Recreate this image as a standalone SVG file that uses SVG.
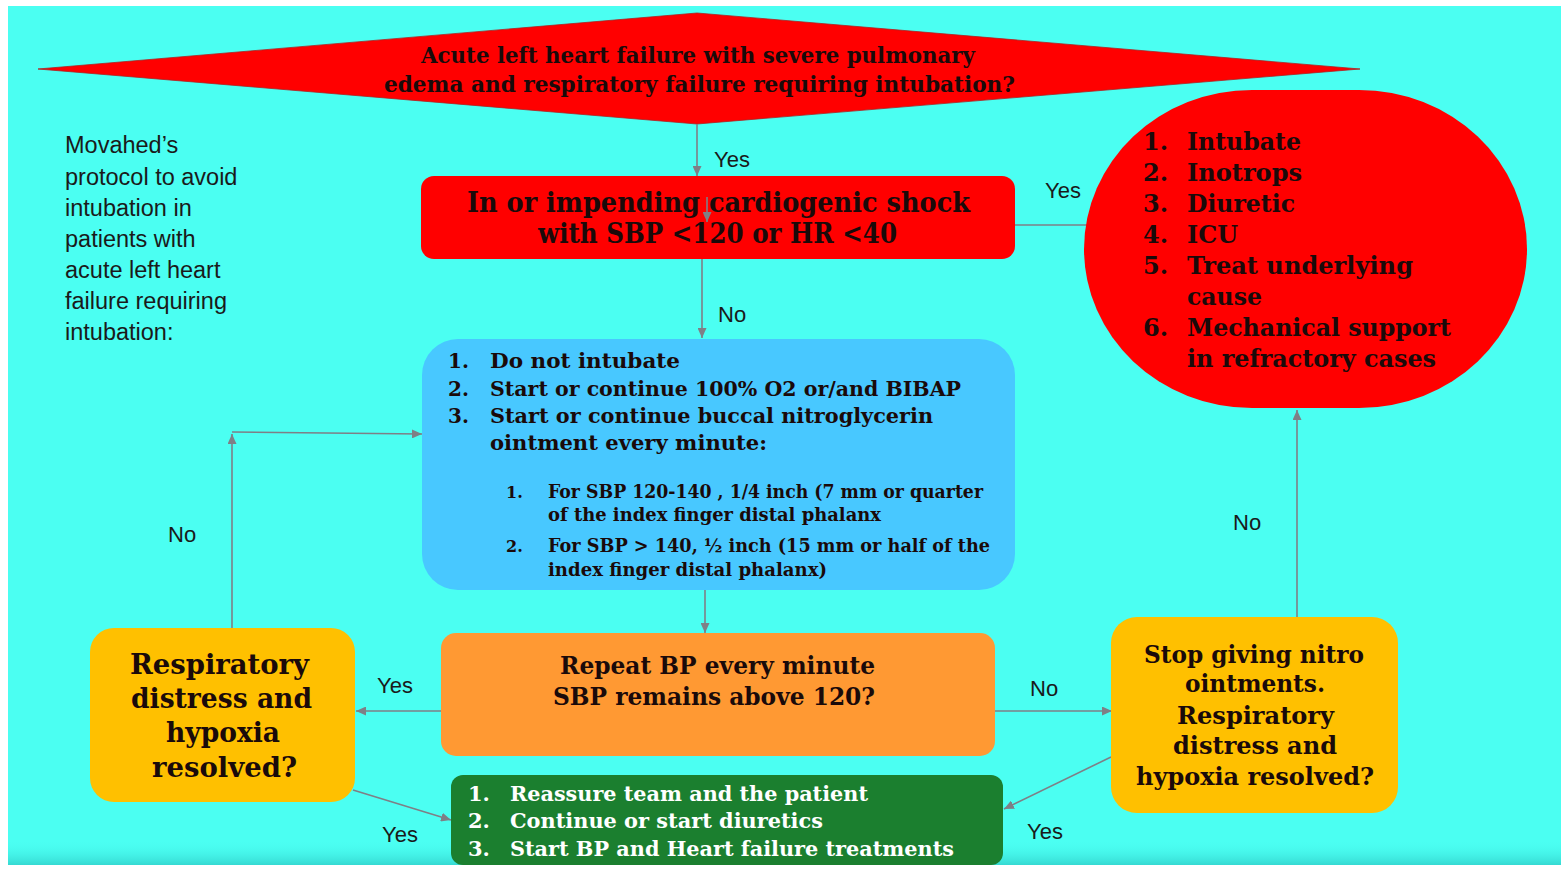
<svg xmlns="http://www.w3.org/2000/svg" width="1565" height="869" viewBox="0 0 1565 869">
  <defs>
    <marker id="arr" markerUnits="userSpaceOnUse" markerWidth="11" markerHeight="9" refX="10" refY="4.5" orient="auto">
      <path d="M0,0 L10,4.5 L0,9 z" fill="#7f7f86"/>
    </marker>
    <linearGradient id="bottomShade" x1="0" y1="0" x2="0" y2="1">
      <stop offset="0" stop-color="#4bfff2" stop-opacity="0"/>
      <stop offset="1" stop-color="#36d9d2"/>
    </linearGradient>
    <style>
      .lbl { font-family: "Liberation Sans", Arial, sans-serif; font-size: 22px; fill: #1a1a1a; }
      .side { font-family: "Liberation Sans", Arial, sans-serif; font-size: 23.5px; fill: #1a1a1a; }
      .ser { font-family: "DejaVu Serif", "Liberation Serif", serif; font-weight: bold; fill: #1a0a0a; }
      .wht { fill: #ffffff; }
      .conn { fill: none; stroke: #7f7f86; stroke-width: 1.6; }
    </style>
  </defs>

  <rect x="0" y="0" width="1565" height="869" fill="#ffffff"/>
  <rect x="8" y="6" width="1553" height="859" fill="#4bfff2"/>
  <rect x="8" y="840" width="1553" height="25" fill="url(#bottomShade)"/>

  <g id="side-note">
    <text class="side" x="65" y="153">Movahed’s</text>
    <text class="side" x="65" y="185">protocol to avoid</text>
    <text class="side" x="65" y="216">intubation in</text>
    <text class="side" x="65" y="247">patients with</text>
    <text class="side" x="65" y="278">acute left heart</text>
    <text class="side" x="65" y="309">failure requiring</text>
    <text class="side" x="65" y="340">intubation:</text>
  </g>

  <g id="node-diamond">
    <polygon points="38,69 697,13 1360,69 697,124" fill="#ff0000" stroke="#b02020" stroke-width="0.8"/>
    <text class="ser" font-size="22" x="421" y="63" textLength="554" lengthAdjust="spacingAndGlyphs">Acute left heart failure with severe pulmonary</text>
    <text class="ser" font-size="22" x="384" y="92" textLength="631" lengthAdjust="spacingAndGlyphs">edema and respiratory failure requiring intubation?</text>
  </g>

  <g id="node-shock">
    <rect x="421" y="176" width="594" height="83" rx="13" fill="#ff0000"/>
    <text class="ser" font-size="27" x="467" y="212" textLength="503" lengthAdjust="spacingAndGlyphs">In or impending cardiogenic  shock</text>
    <text class="ser" font-size="27" x="538" y="243" textLength="359" lengthAdjust="spacingAndGlyphs">with SBP &lt;120 or HR &lt;40</text>
  </g>

  <g id="connectors">
    <path class="conn" d="M697,124 V176" marker-end="url(#arr)"/>
    <path class="conn" d="M707,197 V222" marker-end="url(#arr)"/>
    <path class="conn" d="M702,259 V338" marker-end="url(#arr)"/>
    <path class="conn" d="M1015,225 H1088"/>
    <path class="conn" d="M705,590 V633" marker-end="url(#arr)"/>
    <path class="conn" d="M441,711 H356" marker-end="url(#arr)"/>
    <path class="conn" d="M232,628 V434" marker-end="url(#arr)"/>
    <path class="conn" d="M232,432 L422,434" marker-end="url(#arr)"/>
    <path class="conn" d="M353,790 L451,820" marker-end="url(#arr)"/>
    <path class="conn" d="M995,711 H1112" marker-end="url(#arr)"/>
    <path class="conn" d="M1111,757 L1004,809" marker-end="url(#arr)"/>
    <path class="conn" d="M1297,617 V410" marker-end="url(#arr)"/>
  </g>

  <g id="labels">
    <text class="lbl" x="714" y="167">Yes</text>
    <text class="lbl" x="718" y="322">No</text>
    <text class="lbl" x="1045" y="198">Yes</text>
    <text class="lbl" x="168" y="542">No</text>
    <text class="lbl" x="377" y="693">Yes</text>
    <text class="lbl" x="1030" y="696">No</text>
    <text class="lbl" x="1233" y="530">No</text>
    <text class="lbl" x="1027" y="839">Yes</text>
    <text class="lbl" x="382" y="842">Yes</text>
  </g>

  <g id="node-intubate">
    <rect x="1084" y="90" width="443" height="318" rx="168" ry="159" fill="#ff0000"/>
    <text class="ser" font-size="24">
      <tspan x="1143" y="150">1.</tspan>
      <tspan x="1143" y="181">2.</tspan>
      <tspan x="1143" y="212">3.</tspan>
      <tspan x="1143" y="243">4.</tspan>
      <tspan x="1143" y="274">5.</tspan>
      <tspan x="1143" y="336">6.</tspan>
    </text>
    <text class="ser" font-size="24" x="1187" y="150" textLength="114" lengthAdjust="spacingAndGlyphs">Intubate</text>
    <text class="ser" font-size="24" x="1187" y="181" textLength="115" lengthAdjust="spacingAndGlyphs">Inotrops</text>
    <text class="ser" font-size="24" x="1187" y="212" textLength="108" lengthAdjust="spacingAndGlyphs">Diuretic</text>
    <text class="ser" font-size="24" x="1187" y="243" textLength="51" lengthAdjust="spacingAndGlyphs">ICU</text>
    <text class="ser" font-size="24" x="1187" y="274" textLength="226" lengthAdjust="spacingAndGlyphs">Treat underlying</text>
    <text class="ser" font-size="24" x="1187" y="305" textLength="75" lengthAdjust="spacingAndGlyphs">cause</text>
    <text class="ser" font-size="24" x="1187" y="336" textLength="264" lengthAdjust="spacingAndGlyphs">Mechanical support</text>
    <text class="ser" font-size="24" x="1187" y="367" textLength="249" lengthAdjust="spacingAndGlyphs">in refractory cases</text>
  </g>

  <g id="node-treatment">
    <rect x="422" y="339" width="593" height="251" rx="36" fill="#48c8ff"/>
    <text class="ser" font-size="20">
      <tspan x="448" y="368">1.</tspan>
      <tspan x="448" y="396">2.</tspan>
      <tspan x="448" y="423">3.</tspan>
    </text>
    <text class="ser" font-size="20" x="490" y="368" textLength="190" lengthAdjust="spacingAndGlyphs">Do not  intubate</text>
    <text class="ser" font-size="20" x="490" y="396" textLength="471" lengthAdjust="spacingAndGlyphs">Start or continue 100% O2 or/and BIBAP</text>
    <text class="ser" font-size="20" x="490" y="423" textLength="443" lengthAdjust="spacingAndGlyphs">Start or continue buccal nitroglycerin</text>
    <text class="ser" font-size="20" x="490" y="450" textLength="277" lengthAdjust="spacingAndGlyphs">ointment every minute:</text>
    <text class="ser" font-size="16">
      <tspan x="506" y="498">1.</tspan>
      <tspan x="506" y="552">2.</tspan>
    </text>
    <text class="ser" font-size="18" x="548" y="498" textLength="435" lengthAdjust="spacingAndGlyphs">For SBP  120-140 , 1/4 inch (7 mm or quarter</text>
    <text class="ser" font-size="18" x="548" y="521" textLength="333" lengthAdjust="spacingAndGlyphs">of the index finger distal phalanx</text>
    <text class="ser" font-size="18" x="548" y="552" textLength="442" lengthAdjust="spacingAndGlyphs">For SBP &gt; 140, ½ inch (15 mm or half of the</text>
    <text class="ser" font-size="18" x="548" y="576" textLength="279" lengthAdjust="spacingAndGlyphs">index finger distal phalanx)</text>
  </g>

  <g id="node-repeat">
    <rect x="441" y="633" width="554" height="123" rx="15" fill="#ff9933"/>
    <text class="ser" font-size="24" x="560" y="674" textLength="315" lengthAdjust="spacingAndGlyphs">Repeat BP every minute</text>
    <text class="ser" font-size="24" x="553" y="705" textLength="322" lengthAdjust="spacingAndGlyphs">SBP remains above 120?</text>
  </g>

  <g id="node-resolved-left">
    <rect x="90" y="628" width="265" height="174" rx="24" fill="#ffc000"/>
    <text class="ser" font-size="28" x="130" y="674" textLength="179" lengthAdjust="spacingAndGlyphs">Respiratory</text>
    <text class="ser" font-size="28" x="131" y="708" textLength="181" lengthAdjust="spacingAndGlyphs">distress and</text>
    <text class="ser" font-size="28" x="166" y="742" textLength="114" lengthAdjust="spacingAndGlyphs">hypoxia</text>
    <text class="ser" font-size="28" x="152" y="777" textLength="145" lengthAdjust="spacingAndGlyphs">resolved?</text>
  </g>

  <g id="node-resolved-right">
    <rect x="1111" y="617" width="287" height="196" rx="26" fill="#ffc000"/>
    <text class="ser" font-size="24" x="1144" y="663" textLength="220" lengthAdjust="spacingAndGlyphs">Stop giving nitro</text>
    <text class="ser" font-size="24" x="1185" y="692" textLength="140" lengthAdjust="spacingAndGlyphs">ointments.</text>
    <text class="ser" font-size="24" x="1177" y="724" textLength="157" lengthAdjust="spacingAndGlyphs">Respiratory</text>
    <text class="ser" font-size="24" x="1173" y="754" textLength="164" lengthAdjust="spacingAndGlyphs">distress and</text>
    <text class="ser" font-size="24" x="1136" y="785" textLength="238" lengthAdjust="spacingAndGlyphs">hypoxia resolved?</text>
  </g>

  <g id="node-reassure">
    <rect x="451" y="775" width="552" height="90" rx="12" fill="#1b7f2f"/>
    <text class="ser wht" font-size="21">
      <tspan x="468" y="801">1.</tspan>
      <tspan x="468" y="828">2.</tspan>
      <tspan x="468" y="856">3.</tspan>
    </text>
    <text class="ser wht" font-size="21" x="510" y="801" textLength="358" lengthAdjust="spacingAndGlyphs">Reassure team and the patient</text>
    <text class="ser wht" font-size="21" x="510" y="828" textLength="313" lengthAdjust="spacingAndGlyphs">Continue or start diuretics</text>
    <text class="ser wht" font-size="21" x="510" y="856" textLength="444" lengthAdjust="spacingAndGlyphs">Start BP and Heart failure treatments</text>
  </g>
</svg>
